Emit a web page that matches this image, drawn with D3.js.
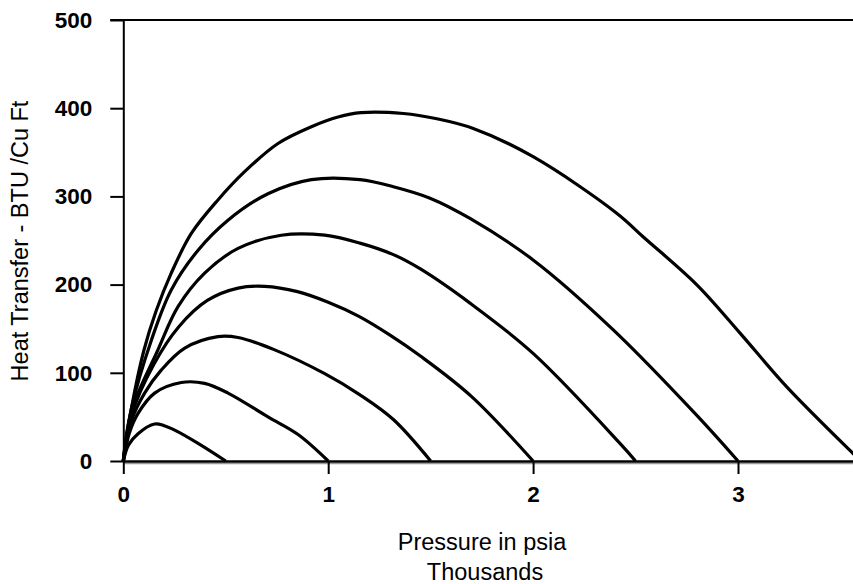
<!DOCTYPE html>
<html>
<head>
<meta charset="utf-8">
<script src="https://cdn.jsdelivr.net/npm/d3@7"></script>
<style>
  html, body { margin: 0; padding: 0; background: #fff; }
  svg { display: block; }
  text { font-family: "Liberation Sans", Arial, sans-serif; fill: #000; }
</style>
</head>
<body>
<svg id="chart" width="853" height="584"></svg>
<script>
// Heat transfer (BTU / cu ft) against pressure (thousands of psia),
// one curve per limiting pressure.
const xTicks = [0, 1, 2, 3];
const yTicks = [0, 100, 200, 300, 400, 500];

const curve05 = [[0,0],[0.025,18],[0.072,31],[0.153,42],[0.2,40],[0.251,35],[0.365,20],[0.5,0]];
const curve10 = [[0,0],[0.03,32],[0.072,54],[0.153,77],[0.283,89],[0.397,88],[0.511,77],[0.706,50],[0.853,30],[1.0,0]];
const curve15 = [[0,0],[0.04,46],[0.104,77],[0.185,103],[0.30,128],[0.462,141],[0.56,140],[0.739,126],[0.983,99],[1.155,75],[1.318,47],[1.5,0]];
const curve20 = [[0,0],[0.04,52],[0.15,110],[0.27,152],[0.41,182],[0.56,196],[0.69,198],[0.85,192],[1.0,180],[1.15,164],[1.3,143],[1.45,119],[1.7,73],[2.0,0]];
const curve25 = [[0,0],[0.04,57],[0.169,126],[0.267,175],[0.397,213],[0.56,241],[0.771,256],[0.983,256],[1.155,247],[1.318,234],[1.448,218],[1.692,179],[2.0,122],[2.424,20],[2.5,0]];
const curve30 = [[0,0],[0.04,60],[0.137,137],[0.234,194],[0.365,239],[0.511,273],[0.706,303],[0.918,319],[1.155,319],[1.318,311],[1.497,298],[1.692,275],[2.0,228],[2.39,149],[2.798,52],[3.0,0]];
const curve36 = [[0,0],[0.04,60],[0.1,125],[0.16,170],[0.234,213],[0.332,258],[0.462,296],[0.592,328],[0.755,360],[0.918,379],[1.048,390],[1.16,395],[1.367,394],[1.53,388],[1.708,377],[2.0,345],[2.408,281],[2.538,254],[2.798,200],[3.01,145],[3.238,84],[3.555,10],[3.6,0]];

const seriesList = [curve05, curve10, curve15, curve20, curve25, curve30, curve36];

const svg = d3.select("#chart");
const x0 = 123.3, y0 = 461, yTop = 20, unit = 204.9;

const x = d3.scaleLinear().domain([0, 4]).range([x0, x0 + 4 * unit]);
const y = d3.scaleLinear().domain([0, 500]).range([y0, yTop]);

// plot area frame: bottom shadow, top border
svg.append("line")
  .attr("x1", x0).attr("x2", 853).attr("y1", y0 + 2.5).attr("y2", y0 + 2.5)
  .attr("stroke", "#999").attr("stroke-width", 1.5);
svg.append("line")
  .attr("x1", x0 - 13).attr("x2", 853).attr("y1", yTop).attr("y2", yTop)
  .attr("stroke", "#000").attr("stroke-width", 2);

// curves
const line = d3.line()
  .x(d => x(d[0]))
  .y(d => y(d[1]))
  .curve(d3.curveCatmullRom.alpha(0.5));

svg.append("g")
  .selectAll("path")
  .data(seriesList)
  .join("path")
  .attr("d", line)
  .attr("fill", "none")
  .attr("stroke", "#000")
  .attr("stroke-width", 3.2)
  .attr("stroke-linejoin", "round");

const tickFont = '"Liberation Sans", Arial, sans-serif';

// axes
const yAxis = d3.axisLeft(y).tickValues(yTicks).tickSize(13).tickSizeOuter(0).tickPadding(18);
const gy = svg.append("g").attr("transform", `translate(${x0},0)`).call(yAxis);
gy.select(".domain").attr("stroke-width", 2);
gy.selectAll(".tick line").attr("stroke-width", 2);
gy.selectAll(".tick text")
  .attr("font-size", 22.5).attr("font-weight", "bold")
  .style("font-family", tickFont);

const xAxis = d3.axisBottom(x).tickValues(xTicks).tickFormat(d3.format("d"))
  .tickSize(13).tickSizeOuter(0).tickPadding(12);
const gx = svg.append("g").attr("transform", `translate(0,${y0})`).call(xAxis);
gx.select(".domain").attr("stroke-width", 2.5);
gx.selectAll(".tick line").attr("stroke-width", 2);
gx.selectAll(".tick text")
  .attr("font-size", 22.5).attr("font-weight", "bold")
  .style("font-family", tickFont);

// axis titles
svg.append("text")
  .attr("transform", "translate(28,241) rotate(-90)")
  .attr("text-anchor", "middle")
  .attr("font-size", 23.5)
  .text("Heat Transfer - BTU /Cu Ft");

svg.append("text")
  .attr("x", 482).attr("y", 550)
  .attr("text-anchor", "middle")
  .attr("font-size", 23.5)
  .text("Pressure in psia");

svg.append("text")
  .attr("x", 485).attr("y", 580)
  .attr("text-anchor", "middle")
  .attr("font-size", 23.5)
  .text("Thousands");
</script>
</body>
</html>
